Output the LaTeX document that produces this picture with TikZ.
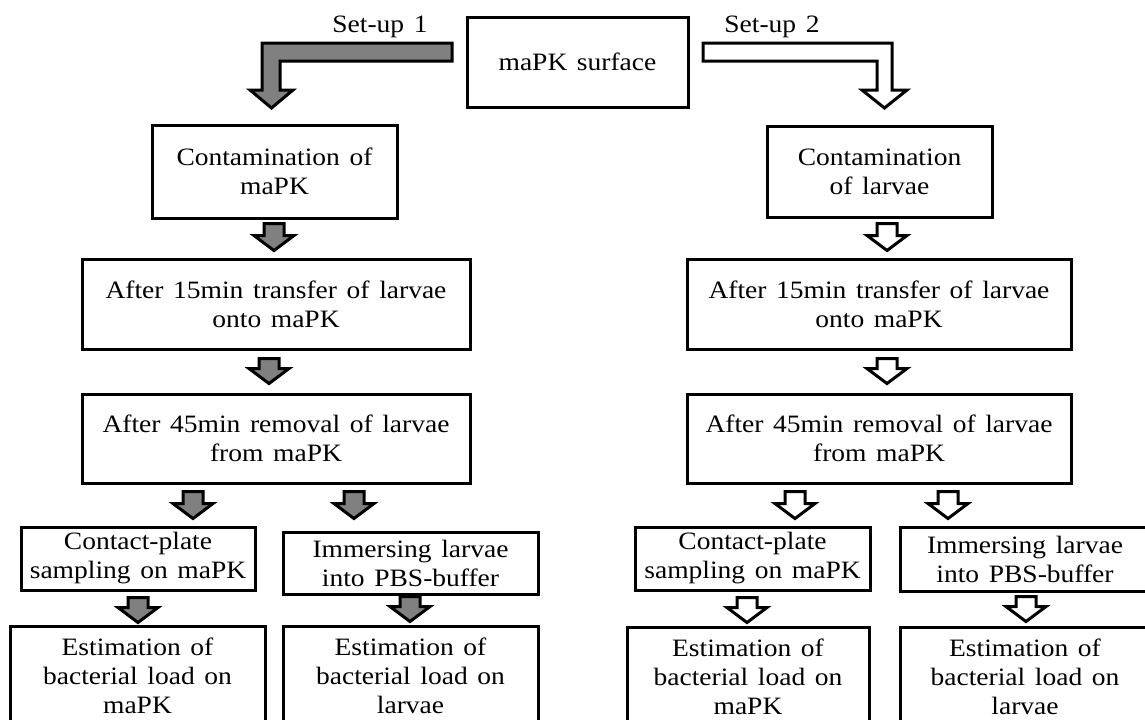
\documentclass[tikz,border=0pt]{standalone}
\usepackage{fontspec}
\setmainfont{Liberation Serif}[FakeStretch=1.1, WordSpace=1.4]
\usetikzlibrary{calc}
\definecolor{garr}{RGB}{128,128,128}
\tikzset{
  box/.style={draw, line width=1.5pt, align=center, inner sep=0pt,
              font=\fontsize{12.5}{14.5}\selectfont},
  wh/.style 2 args={minimum width=#1*0.5pt, minimum height=#2*0.5pt},
  blk/.style={draw, line width=1.5pt, line join=miter},
  lbl/.style={anchor=base, font=\fontsize{12.5}{14.5}\selectfont}
}
% #1 fill, #2 x (px), #3 start point (top of shaft), #4 tip point
\newcommand\darrow[4]{%
  \draw[blk, fill=#1] let \p1=(#2,0), \p2=#3, \p3=#4 in
    (\x1-5pt,\y2) -- (\x1+5pt,\y2) -- (\x1+5pt,\y3+7.5pt) -- (\x1+10pt,\y3+7.5pt)
    -- (\x1,\y3) -- (\x1-10pt,\y3+7.5pt) -- (\x1-5pt,\y3+7.5pt) -- cycle;}
\begin{document}
\begin{tikzpicture}[x=0.5pt, y=-0.5pt]
\useasboundingbox (0,0) rectangle (1145,719);

% boxes
\node[box, wh={221}{90}] (top) at (577.5,62) {maPK surface};
\node[box, wh={245}{93}] (c1) at (274.5,171.5) {Contamination of\\maPK};
\node[box, wh={225}{91}] (c2) at (879.5,171.5) {Contamination\\of larvae};
\node[box, wh={388}{90}] (t1) at (276,304) {After 15min transfer of larvae\\onto maPK};
\node[box, wh={384}{90}] (t2) at (879,304) {After 15min transfer of larvae\\onto maPK};
\node[box, wh={388}{89}] (r1) at (276,438.5) {After 45min removal of larvae\\from maPK};
\node[box, wh={384}{89}] (r2) at (879,438.5) {After 45min removal of larvae\\from maPK};
\node[box, wh={234}{63}] (cp1) at (138,558.5) {Contact-plate\\sampling on maPK};
\node[box, wh={255}{62}] (im1) at (410.5,563) {Immersing larvae\\into PBS-buffer};
\node[box, wh={235}{63}] (cp2) at (752.5,558.5) {Contact-plate\\sampling on maPK};
\node[box, wh={250}{64}] (im2) at (1025,559) {Immersing larvae\\into PBS-buffer};
\node[box, wh={255}{100}] (e1) at (137.5,676) {Estimation of\\bacterial load on\\maPK};
\node[box, wh={255}{100}] (e2) at (410.5,676) {Estimation of\\bacterial load on\\larvae};
\node[box, wh={242}{100}] (e3) at (748,677) {Estimation of\\bacterial load on\\maPK};
\node[box, wh={250}{100}] (e4) at (1025,677) {Estimation of\\bacterial load on\\larvae};

% labels
\node[lbl] (s1) at (380,32) {Set-up 1};
\node[lbl] (s2) at (772,32) {Set-up 2};

% bent arrows from the top box
\draw[blk, fill=garr] (452,43) -- (262,43) -- (262,90) -- (250,90) -- (271.5,108)
  -- (293,90) -- (280,90) -- (280,61) -- (452,61) -- cycle;
\draw[blk, fill=white] (703,43) -- (892,43) -- (892,90) -- (907,90) -- (884.5,108)
  -- (862,90) -- (877,90) -- (877,61) -- (703,61) -- cycle;

% set-up 1 arrows
\darrow{garr}{274}{([yshift=-2pt]c1.south)}{([yshift=3.5pt]t1.north)}
\darrow{garr}{269}{([yshift=-4pt]t1.south)}{([yshift=4.5pt]r1.north)}
\darrow{garr}{193}{([yshift=-3.5pt]r1.south)}{([yshift=3.5pt]cp1.north)}
\darrow{garr}{354}{([yshift=-3.5pt]r1.south)}{([yshift=6pt]im1.north)}
\darrow{garr}{138}{([yshift=-3pt]cp1.south)}{([yshift=1pt]e1.north)}
\darrow{garr}{410}{([yshift=-0.5pt]im1.south)}{([yshift=1.5pt]e2.north)}

% set-up 2 arrows
\darrow{white}{887}{([yshift=-2.5pt]c2.south)}{([yshift=3.5pt]t2.north)}
\darrow{white}{887}{([yshift=-4pt]t2.south)}{([yshift=4.5pt]r2.north)}
\darrow{white}{795}{([yshift=-3.5pt]r2.south)}{([yshift=3.5pt]cp2.north)}
\darrow{white}{948}{([yshift=-3.5pt]r2.south)}{([yshift=3.5pt]im2.north)}
\darrow{white}{747}{([yshift=-3pt]cp2.south)}{([yshift=1.5pt]e3.north)}
\darrow{white}{1026}{([yshift=-2pt]im2.south)}{([yshift=2pt]e4.north)}
\end{tikzpicture}
\end{document}
